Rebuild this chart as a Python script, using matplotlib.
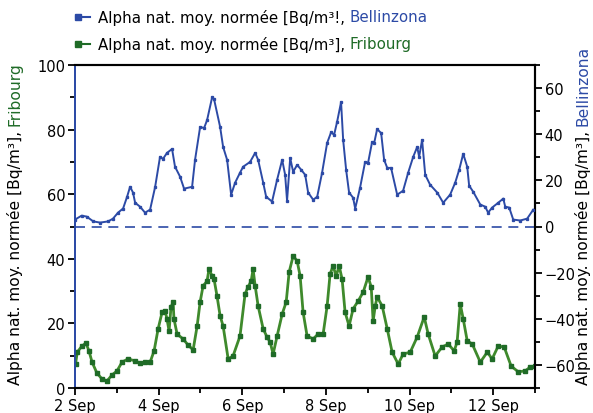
import numpy as np
import pandas as pd
import matplotlib
matplotlib.use("Agg")
import matplotlib.pyplot as plt
import matplotlib.dates as mdates
from matplotlib.lines import Line2D

# hours since 2 Sep 00:00 and values
blue_hours = [0, 3.8, 6.7, 10.5, 14.4, 19, 21.8, 24.7, 27.6, 29.9, 31.6, 33.3, 34.5, 37.3, 40.2, 43.1,
              46, 48.8, 50.5, 52.8, 55.7, 57.4, 60.3, 62.6, 67.2, 68.9, 71.8, 74.1, 75.8, 78.7, 79.8,
              83.3, 85, 87.3, 89.6, 91.9, 94.7, 96.5, 100.5, 103.4, 105.1, 108, 109.7, 113.1, 116,
              118.9, 120.6, 121.7, 123.5, 125.2, 127.5, 129.8, 132.1, 133.8, 136.7, 139, 141.8, 144.7,
              147, 148.7, 150.4, 152.7, 153.9, 155.6, 157.3, 159.6, 160.8, 163.6, 166.5, 168.2, 170.5,
              171.7, 173.4, 175.7, 177.4, 179.2, 181.4, 184.9, 188.3, 191.2, 194.1, 196.4, 197.5, 199.2,
              201, 203.8, 207.9, 211.3, 215.3, 218.2, 220.5, 222.8, 225.1, 226.2, 228.5, 232.6, 235.4,
              237.1, 239.4, 242.9, 245.8, 246.9, 249.2, 251.5, 255.5, 259.5, 263]
bellinzona = [3.0, 4.7, 4.3, 2.2, 1.7, 2.2, 3.4, 6.0, 7.8, 12.9, 17.2, 14.7, 10.3, 8.6, 6.0, 7.3,
              17.2, 30.2, 29.3, 31.9, 33.6, 25.9, 21.6, 16.4, 17.2, 28.9, 43.1, 42.7, 46.1, 56.0, 55.2,
              43.1, 34.5, 28.9, 13.8, 19.0, 23.3, 25.9, 28.0, 31.9, 28.9, 19.0, 12.9, 10.8, 20.3,
              28.9, 22.4, 11.2, 29.7, 23.7, 26.7, 24.6, 22.4, 14.7, 11.6, 12.9, 23.3, 36.2,
              40.9, 39.7, 45.3, 53.9, 37.5, 24.6, 14.7, 12.5, 7.8, 16.8, 28.0, 27.6, 36.6,
              36.2, 42.2, 40.5, 28.9, 25.4, 25.4, 13.8, 15.5, 23.3, 30.2, 34.5, 30.2, 37.5,
              22.4, 18.1, 14.7, 10.3, 13.8, 19.0, 24.6, 31.5, 25.9, 17.7, 15.1, 9.5, 8.6,
              6.0, 8.2, 10.3, 12.1, 8.6, 8.2, 3.0, 2.6, 3.4, 7.3]

green_hours = [0.3, 1.3, 4.0, 6.3, 8.0, 9.8, 12.6, 15.5, 18.4, 21.2, 24.1, 27.0, 30.4, 34.5, 37.3, 40.2,
               43.1, 45.4, 47.7, 50.0, 51.7, 52.8, 54.0, 55.1, 56.3, 56.8, 58.6, 62.0, 64.9, 67.8, 70.1,
               71.8, 73.5, 75.8, 76.9, 78.7, 79.8, 81.5, 83.3, 85.0, 87.9, 90.7, 94.7, 97.6, 99.3, 101.1,
               102.2, 103.4, 105.1, 108.0, 110.2, 112.0, 113.7, 116.0, 118.9, 121.2, 122.9, 125.2, 127.5,
               129.2, 130.9, 133.2, 136.7, 139.5, 142.4, 144.7, 146.4, 148.1, 149.9, 151.6, 153.3, 155.0,
               157.3, 159.6, 162.5, 165.4, 168.2, 170.0, 171.1, 172.3, 173.4, 176.3, 179.2, 182.0, 185.5,
               188.3, 192.4, 196.4, 200.4, 202.7, 206.7, 210.7, 214.2, 217.6, 219.3, 221.1, 222.8, 225.1,
               228.0, 232.6, 236.6, 239.4, 242.9, 246.3, 250.3, 254.4, 258.4, 261.3, 264.0]
fribourg = [7.4, 11.1, 13.0, 13.9, 11.5, 8.0, 4.6, 2.8, 2.2, 4.0, 5.3, 8.0, 9.0, 8.4, 7.7, 8.0,
            8.0, 11.5, 18.3, 23.5, 23.8, 21.4, 17.6, 25.1, 26.6, 21.4, 16.7, 15.2, 13.3, 11.8, 19.2,
            26.6, 31.6, 33.1, 36.8, 34.7, 33.7, 28.5, 22.3, 19.2, 9.0, 9.9, 16.1, 29.1, 31.3, 33.1,
            36.8, 31.6, 25.4, 18.3, 15.8, 14.2, 10.5, 16.1, 22.9, 26.6, 35.9, 40.9, 39.3,
            34.7, 23.5, 16.1, 15.2, 16.7, 16.7, 25.4, 35.3, 37.8, 34.7, 37.8, 33.7, 23.5,
            19.2, 24.5, 26.9, 29.7, 34.4, 31.3, 20.7, 25.4, 28.2, 25.4, 18.3, 11.1, 7.4,
            10.5, 11.1, 15.8, 22.0, 16.7, 9.9, 12.7, 13.6, 11.5, 14.2, 26.0, 21.4, 14.6,
            13.6, 8.0, 11.1, 9.0, 13.0, 12.7, 6.8, 5.0, 5.3, 6.5, 6.8]

start = pd.Timestamp("2005-09-02")
unit = "Alpha nat. moy. normée [Bq/m³], "
legend_labels = ["Alpha nat. moy. normée [Bq/m³!, ", "Alpha nat. moy. normée [Bq/m³], "]
cities = ["Bellinzona", "Fribourg"]

blue = "#2c4aa6"
green = "#1f6b27"
green_line = "#3f8a2c"

plt.rcParams["font.family"] = "DejaVu Sans"
fig = plt.figure(figsize=(5.93, 4.14), dpi=100)
ax = fig.add_axes([75 / 593, 25 / 414, 460 / 593, 323 / 414])
ax2 = ax.twinx()

t_blue = start + pd.to_timedelta(blue_hours, unit="h")
t_green = start + pd.to_timedelta(green_hours, unit="h")

ax.plot(t_green, fribourg, color=green_line, lw=2.0, marker="s", ms=2.6,
        mfc=green, mec=green, zorder=3)
ax2.plot(t_blue, bellinzona, color=blue, lw=1.4, marker="s", ms=1.4, zorder=3)
ax2.axhline(0, color=blue, lw=1.2, dashes=(6, 4))

ax.set_ylim(0, 100)
ax2.set_ylim(-70, 70)
ax.set_xlim(start, start + pd.Timedelta(days=11))

ax.set_yticks(np.arange(0, 101, 20))
ax.set_yticks(np.arange(0, 101, 10), minor=True)
ax2.set_yticks(np.arange(-60, 61, 20))
ax2.set_yticks(np.arange(-70, 71, 10), minor=True)
ax.xaxis.set_major_locator(mdates.DayLocator(bymonthday=range(2, 31, 2)))
ax.xaxis.set_minor_locator(mdates.DayLocator())
ax.xaxis.set_major_formatter(mdates.DateFormatter("%-d %b"))

for a in (ax, ax2):
    a.tick_params(which="major", length=5, width=1.3, labelsize=10.5, color="black", pad=2)
    a.tick_params(which="minor", length=3.5, width=1.3, color="black")
    for side in ("top", "bottom", "right"):
        a.spines[side].set_color("black")
        a.spines[side].set_linewidth(1.5)
    a.spines["left"].set_color(blue)
    a.spines["left"].set_linewidth(1.3)

# legend drawn by hand so the city name can be coloured
fig.canvas.draw()
r = fig.canvas.get_renderer()
W, H = fig.get_size_inches() * fig.dpi
for i, (lab, city, col) in enumerate(zip(legend_labels, cities, [blue, green])):
    y = 1 - (18 + 27 * i) / 414
    fig.add_artist(Line2D([76 / W, 90 / W], [y, y], color=col, lw=1.5,
                          transform=fig.transFigure))
    fig.add_artist(Line2D([78 / W], [y], color=col, marker="s", ms=5,
                          transform=fig.transFigure))
    t1 = fig.text(98 / W, y, lab, fontsize=10.8, va="center", color="black")
    bb = t1.get_window_extent(r)
    fig.text(bb.x1 / W, y, city, fontsize=10.8, va="center", color=col)

# coloured y labels
for x, city, col in [(15, "Fribourg", green), (583, "Bellinzona", blue)]:
    t1 = fig.text(x / W, 29 / H, unit, rotation=90, fontsize=11.2, ha="center",
                  va="bottom", color="black")
    bb = t1.get_window_extent(r)
    fig.text(x / W, bb.y1 / H, city, rotation=90, fontsize=11.2, ha="center",
             va="bottom", color=col)

fig.savefig("out.png", dpi=100)
